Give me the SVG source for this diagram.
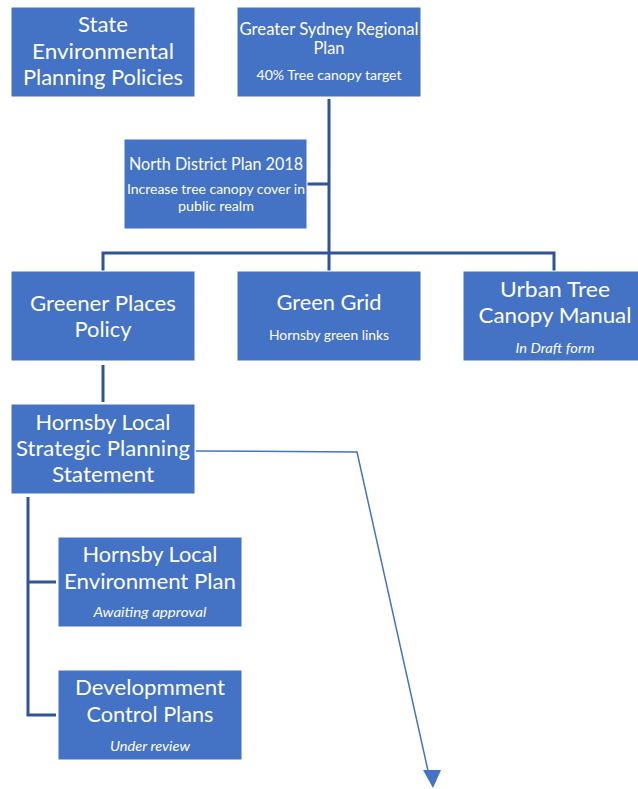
<svg xmlns="http://www.w3.org/2000/svg" width="638" height="789" viewBox="0 0 638 789">
<defs>
<style>
.box{fill:#4472C4;stroke:#ffffff;stroke-width:1}
.t{fill:#ffffff;font-family:Lato,"Liberation Sans",sans-serif;text-anchor:middle}
.b{font-size:21px}
.m{font-size:17px}
.s{font-size:13.5px}
.i{font-style:italic;font-size:13.5px}
.c{fill:none;stroke:#2F5597;stroke-width:3}
.a{fill:none;stroke:#4472C4;stroke-width:1.5}
</style>
</defs>
<rect width="638" height="789" fill="#ffffff"/>
<g id="connectors">
<polyline class="c" points="329,99 329,271"/>
<polyline class="c" points="307,184 329,184"/>
<polyline class="c" points="103,271 103,253 554,253 554,271"/>
<polyline class="c" points="103,365 103,402"/>
<polyline class="c" points="28,497 28,715 56,715"/>
<polyline class="c" points="28,582 56,582"/>
<polyline class="a" points="196,451 357,452 428.5,773"/>
<polygon points="423,770 441,770 433,788" fill="#4472C4"/>
</g>
<g id="state-epp">
<rect class="box" x="11" y="7" width="184" height="90"/>
<text class="t b" x="103" y="32" textLength="50" lengthAdjust="spacingAndGlyphs">State</text>
<text class="t b" x="103" y="59" textLength="142" lengthAdjust="spacingAndGlyphs">Environmental</text>
<text class="t b" x="103" y="85" textLength="160" lengthAdjust="spacingAndGlyphs">Planning Policies</text>
</g>
<g id="greater-sydney">
<rect class="box" x="237" y="7" width="184" height="90"/>
<text class="t m" x="329" y="35" textLength="179" lengthAdjust="spacingAndGlyphs">Greater Sydney Regional</text>
<text class="t m" x="329" y="54" textLength="31" lengthAdjust="spacingAndGlyphs">Plan</text>
<text class="t s" x="329" y="80" textLength="145" lengthAdjust="spacingAndGlyphs">40% Tree canopy target</text>
</g>
<g id="north-district">
<rect class="box" x="124" y="139" width="183" height="90"/>
<text class="t m" x="216" y="170" textLength="174" lengthAdjust="spacingAndGlyphs">North District Plan 2018</text>
<text class="t s" x="216" y="194" textLength="178" lengthAdjust="spacingAndGlyphs">Increase tree canopy cover in</text>
<text class="t s" x="216" y="211" textLength="76" lengthAdjust="spacingAndGlyphs">public realm</text>
</g>
<g id="greener-places">
<rect class="box" x="11" y="271" width="184" height="90"/>
<text class="t b" x="103" y="311" textLength="146" lengthAdjust="spacingAndGlyphs">Greener Places</text>
<text class="t b" x="103" y="337" textLength="57" lengthAdjust="spacingAndGlyphs">Policy</text>
</g>
<g id="green-grid">
<rect class="box" x="237" y="271" width="184" height="90"/>
<text class="t b" x="329" y="310" textLength="105" lengthAdjust="spacingAndGlyphs">Green Grid</text>
<text class="t s" x="329" y="340" textLength="120" lengthAdjust="spacingAndGlyphs">Hornsby green links</text>
</g>
<g id="urban-tree">
<rect class="box" x="463" y="271" width="176" height="90"/>
<text class="t b" x="555" y="297" textLength="110" lengthAdjust="spacingAndGlyphs">Urban Tree</text>
<text class="t b" x="555" y="323" textLength="153" lengthAdjust="spacingAndGlyphs">Canopy Manual</text>
<text class="t i" x="555" y="353" textLength="79" lengthAdjust="spacingAndGlyphs">In Draft form</text>
</g>
<g id="hornsby-lsps">
<rect class="box" x="11" y="404" width="184" height="90"/>
<text class="t b" x="103" y="430" textLength="135" lengthAdjust="spacingAndGlyphs">Hornsby Local</text>
<text class="t b" x="103" y="456" textLength="174" lengthAdjust="spacingAndGlyphs">Strategic Planning</text>
<text class="t b" x="103" y="482" textLength="102" lengthAdjust="spacingAndGlyphs">Statement</text>
</g>
<g id="hornsby-lep">
<rect class="box" x="58" y="537" width="184" height="90"/>
<text class="t b" x="150" y="562" textLength="135" lengthAdjust="spacingAndGlyphs">Hornsby Local</text>
<text class="t b" x="150" y="589" textLength="172" lengthAdjust="spacingAndGlyphs">Environment Plan</text>
<text class="t i" x="150" y="617" textLength="113" lengthAdjust="spacingAndGlyphs">Awaiting approval</text>
</g>
<g id="dcp">
<rect class="box" x="58" y="670" width="184" height="90"/>
<text class="t b" x="150" y="695" textLength="150" lengthAdjust="spacingAndGlyphs">Developmment</text>
<text class="t b" x="150" y="722" textLength="127" lengthAdjust="spacingAndGlyphs">Control Plans</text>
<text class="t i" x="150" y="751" textLength="80" lengthAdjust="spacingAndGlyphs">Under review</text>
</g>
</svg>
